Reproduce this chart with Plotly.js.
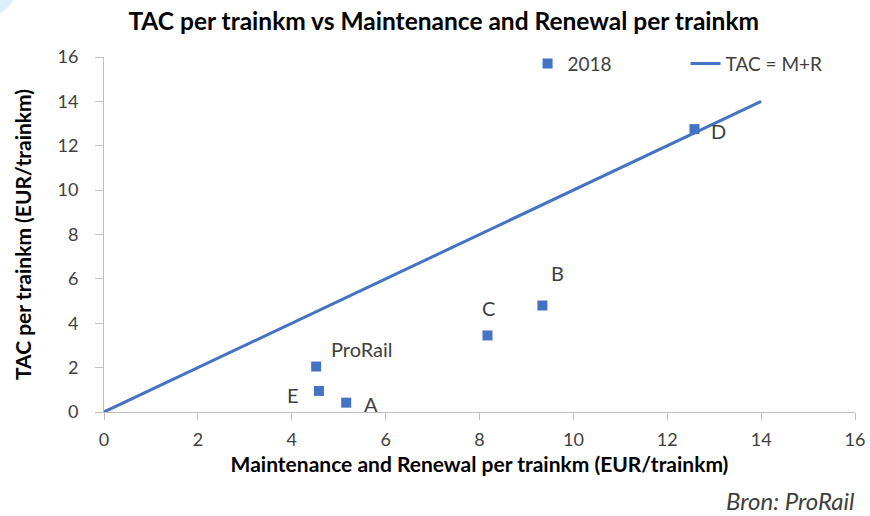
<!DOCTYPE html>
<html>
<head>
<meta charset="utf-8">
<script src="https://cdn.plot.ly/plotly-3.0.1.min.js"></script>
<style>
  html, body { margin: 0; padding: 0; background: #fff; }
  #chart { width: 870px; height: 516px; }
</style>
</head>
<body>
<div id="chart"></div>
<script>
// infrastructure managers, 2018
const names = ["ProRail", "E", "A", "C", "B", "D"];
const mrPerKm = [4.52, 4.58, 5.16, 8.17, 9.34, 12.58];
const tacPerKm = [2.05, 0.95, 0.42, 3.45, 4.8, 12.75];

// reference line TAC = M+R
const refX = [0, 14];
const refY = [0, 14];

// label offsets in px (dx, dy)
const labelShift = [[46, 18], [-26, -4], [25, -1], [1, 27], [15, 33], [24, -2]];

const blue = "#4472C4";
const font = "Lato, 'Open Sans', sans-serif";

const traces = [
  {
    x: mrPerKm,
    y: tacPerKm,
    type: "scatter",
    mode: "markers",
    name: "2018",
    marker: { symbol: "square", size: 10, color: blue }
  },
  {
    x: refX,
    y: refY,
    type: "scatter",
    mode: "lines",
    name: "TAC = M+R",
    line: { color: blue, width: 3 }
  }
];

const annotations = names.map((n, i) => ({
  x: mrPerKm[i],
  y: tacPerKm[i],
  text: n,
  showarrow: false,
  xshift: labelShift[i][0],
  yshift: labelShift[i][1],
  font: { family: font, size: 20, color: "#404040" }
}));

annotations.push({
  xref: "paper", yref: "paper",
  x: 1.003, y: -0.25,
  xanchor: "right", yanchor: "middle",
  text: "<i>Bron: ProRail</i>",
  showarrow: false,
  font: { family: font, size: 24, color: "#404040" }
});

const layout = {
  width: 870,
  height: 516,
  margin: { l: 104, r: 15, t: 57, b: 104 },
  paper_bgcolor: "#fff",
  plot_bgcolor: "#fff",
  font: { family: font, size: 18, color: "#595959" },
  title: {
    text: "<b>TAC per trainkm vs Maintenance and Renewal per trainkm</b>",
    x: 0.51, xref: "container", xanchor: "center",
    y: 0.958, yref: "container", yanchor: "middle",
    font: { family: font, size: 24.5, color: "#000" }
  },
  xaxis: {
    range: [0, 16],
    dtick: 2,
    showgrid: false,
    zeroline: false,
    showline: true,
    linecolor: "#bfbfbf",
    linewidth: 1,
    ticks: "outside",
    tickcolor: "#bfbfbf",
    ticklen: 7,
    ticklabelstandoff: 4,
    tickfont: { size: 18, color: "#404040" },
    title: {
      text: "<b>Maintenance and Renewal per trainkm (EUR/trainkm)</b>",
      font: { size: 21, color: "#000" },
      standoff: 8
    }
  },
  yaxis: {
    range: [0, 16],
    dtick: 2,
    showgrid: false,
    zeroline: false,
    showline: true,
    linecolor: "#bfbfbf",
    linewidth: 1,
    ticks: "outside",
    tickcolor: "#bfbfbf",
    ticklen: 8,
    ticklabelstandoff: 13,
    tickfont: { size: 18, color: "#404040" },
    title: {
      text: "<b>TAC per trainkm (EUR/trainkm)</b>",
      font: { size: 21, color: "#000" },
      standoff: 20
    }
  },
  legend: {
    orientation: "h",
    x: 0.564, xanchor: "left",
    y: 1.035, yanchor: "top",
    font: { size: 19, color: "#404040" },
    entrywidth: 113,
    tracegroupgap: 0
  },
  annotations: annotations,
  shapes: [{
    type: "circle",
    xref: "paper", yref: "paper",
    xsizemode: "pixel", ysizemode: "pixel",
    xanchor: -104 / 751, yanchor: 1 + 57 / 355,
    x0: -107, x1: 27, y0: -27, y1: 107,
    fillcolor: "#d9f0fb",
    line: { width: 0 },
    layer: "below"
  }]
};

Plotly.newPlot("chart", traces, layout, { displayModeBar: false, staticPlot: true });
</script>
</body>
</html>
